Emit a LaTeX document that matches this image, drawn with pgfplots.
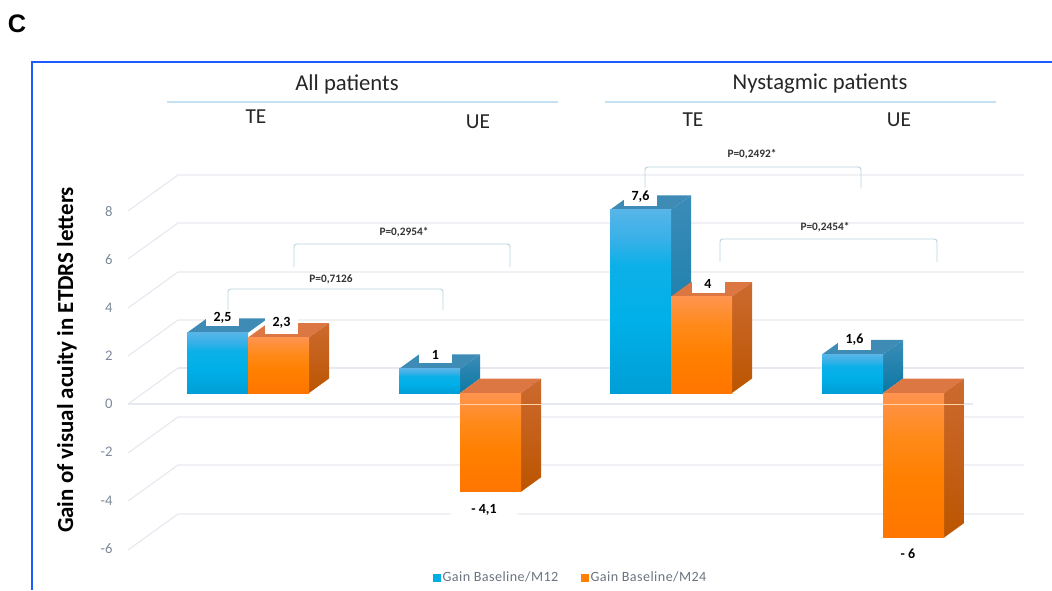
\documentclass[border=0pt]{standalone}
\usepackage{fontspec}
\usepackage{pgfplots}
\pgfplotsset{compat=1.18}
\setmainfont{Carlito}
\newfontfamily\arialf{Liberation Sans}
\definecolor{gridc}{HTML}{E6EAF0}
\definecolor{brk}{HTML}{B8D2DE}
\definecolor{hdr}{HTML}{C5E2F2}
\definecolor{frame}{HTML}{1A5CFF}
\definecolor{tickc}{HTML}{7C8A99}
\definecolor{legc}{HTML}{6B7480}
\definecolor{blueM}{HTML}{00AEE6}
\definecolor{orgM}{HTML}{FF7F00}
\pgfdeclareverticalshading{blueshade}{100bp}{rgb(0bp)=(0,.62,.84); rgb(25bp)=(0,.62,.84); rgb(45bp)=(0,.69,.91); rgb(60bp)=(.05,.69,.91); rgb(66bp)=(.2,.69,.91); rgb(75bp)=(.34,.71,.91); rgb(100bp)=(.34,.71,.91)}
\pgfdeclareverticalshading{orgshade}{100bp}{rgb(0bp)=(1,.46,0); rgb(25bp)=(1,.46,0); rgb(45bp)=(1,.5,0); rgb(60bp)=(1,.54,.1); rgb(75bp)=(1,.58,.31); rgb(100bp)=(1,.58,.31)}
\definecolor{bsT}{HTML}{3B8CB8}
\definecolor{bsB}{HTML}{0B78A3}
\definecolor{bTop}{HTML}{3E8CB6}
\definecolor{osT}{HTML}{CC6A30}
\definecolor{osB}{HTML}{BB5500}
\definecolor{oTop}{HTML}{DC7744}
\pgfplotsset{
  pix/.style={width=789pt,height=442.5pt,scale only axis,xmin=0,xmax=1052,ymin=0,ymax=590,y dir=reverse,hide axis,clip=false},
  g/.style={color=gridc,line width=0.9pt,mark=none,forget plot},
  b/.style={color=brk,line width=0.7pt,mark=none,forget plot,rounded corners=2pt},
  bs/.style={draw=none,mark=none,forget plot,top color=bsT,bottom color=bsB},
  os/.style={draw=none,mark=none,forget plot,top color=osT,bottom color=osB},
  bt/.style={draw=none,mark=none,forget plot,fill=bTop},
  ot/.style={draw=none,mark=none,forget plot,fill=oTop},
  bf/.style={ybar,bar width=45.75pt,bar shift=0pt,draw=none,forget plot,shading=blueshade},
  of/.style={ybar,bar width=45.75pt,bar shift=0pt,draw=none,forget plot,shading=orgshade},
}
\begin{document}
\begin{tikzpicture}
\useasboundingbox (0,0) rectangle (789pt,442.5pt);
% ---------- background: frame, grid, brackets, headings
\begin{axis}[pix]
\addplot[color=frame,line width=1.4pt,mark=none,forget plot] coordinates {(32,590)(32,62)(1052,62)};
\addplot[color=hdr,line width=0.8pt,mark=none,forget plot] coordinates {(167,102)(558,102)};
\addplot[color=hdr,line width=0.8pt,mark=none,forget plot] coordinates {(605,102)(996,102)};
\addplot[g] coordinates {(128,211)(178,175)(1024,175)};
\addplot[g] coordinates {(128,259)(178,223)(1024,223)};
\addplot[g] coordinates {(128,308)(178,272)(1024,272)};
\addplot[g] coordinates {(128,356)(178,320)(1024,320)};
\addplot[g] coordinates {(178,368)(1024,368)};
\addplot[g] coordinates {(128,404)(973,404)};
\addplot[g] coordinates {(128,404)(178,368)};
\addplot[g] coordinates {(128,453)(178,417)(1024,417)};
\addplot[g] coordinates {(128,501)(178,465)(1024,465)};
\addplot[g] coordinates {(128,550)(178,514)(1024,514)};
\addplot[b] coordinates {(228,310)(228,289)(443,289)(443,310)};
\addplot[b] coordinates {(294,267)(294,244)(510,244)(510,267)};
\addplot[b] coordinates {(645,188)(645,167)(861,167)(861,188)};
\addplot[b] coordinates {(720,262)(720,239)(937,239)(937,262)};
\end{axis}
% ---------- data: bars in the chart's own units
\begin{axis}[width=789pt,height=442.5pt,scale only axis,xmin=0,xmax=1052,ymin=-8.1743,ymax=16.307,clip=false,
  axis line style={draw=none},tick style={draw=none},xtick=\empty,
  ytick={-6,-4,-2,0,2,4,6,8},
  /pgf/number format/assume math mode=true,
  yticklabel style={font=\fontsize{11pt}{12pt}\selectfont,text=tickc,xshift=88pt,yshift=-8.2pt,anchor=east},
  legend style={draw=none,fill=none,at={(0.5428,0.0205)},anchor=center,legend columns=2,
    font=\fontsize{10.6pt}{12pt}\selectfont\addfontfeatures{LetterSpace=3}\color{legc},
    /tikz/every even column/.append style={column sep=15pt},
    inner sep=0pt,outer sep=0pt},
  legend cell align=left]
\addlegendimage{only marks,mark=square*,mark size=2.6pt,color=blueM}
\addlegendentry{Gain Baseline/M12}
\addlegendimage{only marks,mark=square*,mark size=2.6pt,color=orgM}
\addlegendentry{Gain Baseline/M24}
% All patients, TE
\addplot[bt] coordinates {(187,2.5)(207,3.1)(268,3.1)(248,2.5)};
\addplot[bf] coordinates {(217.5,2.5)};
\addplot[ot] coordinates {(248,2.3)(268,2.9)(329,2.9)(309,2.3)};
\addplot[os] coordinates {(309,0)(329,0.6)(329,2.9)(309,2.3)};
\addplot[of] coordinates {(278.5,2.3)};
% All patients, UE
\addplot[bt] coordinates {(399,1)(419,1.6)(480,1.6)(460,1)};
\addplot[bs] coordinates {(460,0)(480,0.6)(480,1.6)(460,1)};
\addplot[bf] coordinates {(429.5,1)};
\addplot[ot] coordinates {(460,0)(480,0.6)(541,0.6)(521,0)};
\addplot[os] coordinates {(521,-4.1)(541,-3.5)(541,0.6)(521,0)};
\addplot[of] coordinates {(490.5,-4.1)};
% Nystagmic patients, TE
\addplot[bt] coordinates {(610,7.6)(630,8.2)(691,8.2)(671,7.6)};
\addplot[bs] coordinates {(671,0)(691,0.6)(691,8.2)(671,7.6)};
\addplot[bf] coordinates {(640.5,7.6)};
\addplot[ot] coordinates {(671,4)(691,4.6)(752,4.6)(732,4)};
\addplot[os] coordinates {(732,0)(752,0.6)(752,4.6)(732,4)};
\addplot[of] coordinates {(701.5,4)};
% Nystagmic patients, UE
\addplot[bt] coordinates {(822,1.6)(842,2.2)(903,2.2)(883,1.6)};
\addplot[bs] coordinates {(883,0)(903,0.6)(903,2.2)(883,1.6)};
\addplot[bf] coordinates {(852.5,1.6)};
\addplot[ot] coordinates {(883,0)(903,0.6)(964,0.6)(944,0)};
\addplot[os] coordinates {(944,-6)(964,-5.4)(964,0.6)(944,0)};
\addplot[of] coordinates {(913.5,-6)};
% front zero plane line showing over the negative bars
\addplot[color=white!65!orange,line width=0.7pt,mark=none,forget plot] coordinates {(460,-0.456)(541,-0.456)};
\addplot[color=white!65!orange,line width=0.7pt,mark=none,forget plot] coordinates {(883,-0.456)(964,-0.456)};
\end{axis}
% ---------- texts
\begin{axis}[pix]
\newcommand{\lab}[5]{\node[fill=white,inner sep=0pt,minimum width=#3*0.75pt,minimum height=#4*0.75pt,font=\fontsize{10.5pt}{11pt}\selectfont\bfseries,text=black] at (axis cs:#1,#2) {#5};}
\lab{222.5}{318}{33}{16}{2,5}
\lab{281.5}{323}{33}{22}{2,3}
\lab{435.5}{355}{33}{16}{1}
\lab{640.5}{197}{33}{18}{7,6}
\lab{708}{284}{33}{18}{4}
\lab{854.5}{340}{33}{20}{1,6}
\lab{484}{510}{66}{25}{- 4,1}
\lab{908}{554}{40}{16}{- 6}
\node[font=\fontsize{19pt}{20pt}\selectfont\arialf\bfseries,text=black] at (axis cs:17,24) {C};
\node[font=\fontsize{17pt}{18pt}\selectfont,text=black!85] at (axis cs:347,84) {All patients};
\node[font=\fontsize{17pt}{18pt}\selectfont,text=black!85] at (axis cs:820,84) {Nystagmic patients};
\node[font=\fontsize{16pt}{18pt}\selectfont,text=black!85] at (axis cs:256,117) {TE};
\node[font=\fontsize{16pt}{18pt}\selectfont,text=black!85] at (axis cs:478,122) {UE};
\node[font=\fontsize{16pt}{18pt}\selectfont,text=black!85] at (axis cs:693,120) {TE};
\node[font=\fontsize{16pt}{18pt}\selectfont,text=black!85] at (axis cs:899,120) {UE};
\node[font=\fontsize{8.5pt}{9pt}\selectfont\bfseries,text=black!80] at (axis cs:331,279) {P=0,7126};
\node[font=\fontsize{8.5pt}{9pt}\selectfont\bfseries,text=black!80] at (axis cs:404,232) {P=0,2954*};
\node[font=\fontsize{8.5pt}{9pt}\selectfont\bfseries,text=black!80] at (axis cs:752,154) {P=0,2492*};
\node[font=\fontsize{8.5pt}{9pt}\selectfont\bfseries,text=black!80] at (axis cs:825,227) {P=0,2454*};
\node[rotate=90,font=\fontsize{17.2pt}{18pt}\selectfont\bfseries,text=black] at (axis cs:67,360) {Gain of visual acuity in ETDRS letters};
\end{axis}
\end{tikzpicture}
\end{document}
